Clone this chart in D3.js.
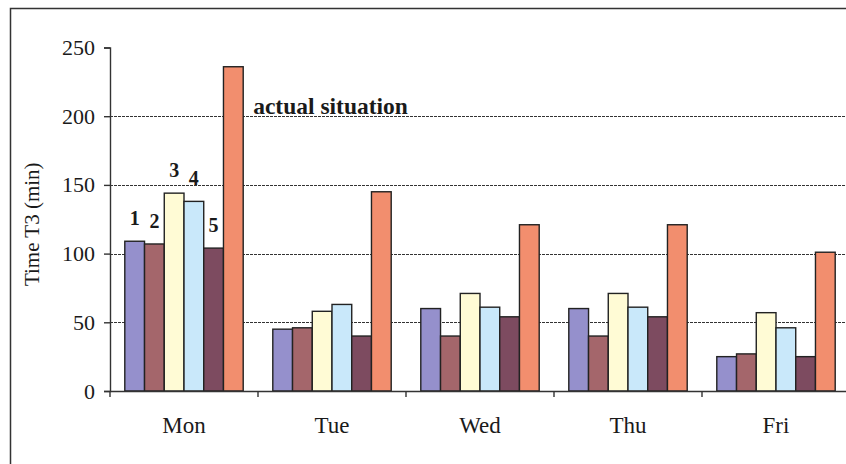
<!DOCTYPE html>
<html>
<head>
<meta charset="utf-8">
<script src="https://cdn.jsdelivr.net/npm/d3@7"></script>
<style>
  html, body { margin: 0; padding: 0; background: #fff; }
  svg { display: block; }
  svg text { font-family: "Liberation Serif", "DejaVu Serif", serif; fill: #1a1a1a; }
</style>
</head>
<body>
<svg id="chart" width="846" height="464"></svg>
<script>
// Weekday categories and six scenarios (1-5 plus the actual situation)
const days = ["Mon", "Tue", "Wed", "Thu", "Fri"];
const seriesNames = ["1", "2", "3", "4", "5", "actual situation"];
const s1 = [109, 45, 60, 60, 25];
const s2 = [107, 46, 40, 40, 27];
const s3 = [144, 58, 71, 71, 57];
const s4 = [138, 63, 61, 61, 46];
const s5 = [104, 40, 54, 54, 25];
const s6 = [236, 145, 121, 121, 101];
const yTicks = [0, 50, 100, 150, 200, 250];
const colors = ["#9590cc", "#a4666b", "#fffbd5", "#c9e8fa", "#7d4b60", "#f28e6e"];

const series = [s1, s2, s3, s4, s5, s6];
const serif = '"Liberation Serif", "DejaVu Serif", serif';

const svg = d3.select("#chart");
const plot = { left: 110, right: 850, top: 47.5, bottom: 391 };

// outer chart frame (right and bottom edges fall outside the canvas)
svg.append("rect")
  .attr("x", 10.5).attr("y", 8.5)
  .attr("width", 900).attr("height", 500)
  .attr("fill", "none").attr("stroke", "#333").attr("stroke-width", 1.5);

const x = d3.scaleBand().domain(days).range([plot.left, plot.right]).padding(0);
const xs = d3.scaleBand().domain(d3.range(series.length))
  .range([0, x.bandwidth()]).paddingInner(0).paddingOuter(0.75);
const y = d3.scaleLinear().domain([0, 250]).range([plot.bottom, plot.top]);

// dotted gridlines
svg.append("g").selectAll("line")
  .data(yTicks.filter(t => t > 0 && t < 250))
  .join("line")
  .attr("x1", plot.left).attr("x2", plot.right)
  .attr("y1", d => Math.round(y(d)) + 0.5).attr("y2", d => Math.round(y(d)) + 0.5)
  .attr("stroke", "#333").attr("stroke-width", 1)
  .attr("stroke-dasharray", "3,1");

// bars
const groups = svg.append("g").selectAll("g")
  .data(days)
  .join("g")
  .attr("transform", d => `translate(${x(d)},0)`);

groups.selectAll("rect")
  .data((d, i) => series.map((s, k) => ({ k, v: s[i] })))
  .join("rect")
  .attr("x", d => xs(d.k))
  .attr("width", xs.bandwidth())
  .attr("y", d => y(d.v))
  .attr("height", d => y(0) - y(d.v))
  .attr("fill", d => colors[d.k])
  .attr("stroke", "#222").attr("stroke-width", 1.4);

// y axis
const yAxis = svg.append("g")
  .attr("transform", `translate(${plot.left},0)`)
  .call(d3.axisLeft(y).tickValues(yTicks).tickSize(6).tickPadding(9));
yAxis.attr("font-family", null).attr("font-size", null);
yAxis.select(".domain").attr("stroke", "#333").attr("stroke-width", 1.4);
yAxis.selectAll(".tick line").attr("stroke", "#333").attr("stroke-width", 1.4);
yAxis.selectAll(".tick text")
  .style("font-family", serif).style("font-size", "22px").attr("fill", "#222");

// x axis: baseline, boundary ticks and centred day labels
const xAxis = svg.append("g")
  .attr("transform", `translate(0,${plot.bottom})`)
  .call(d3.axisBottom(x).tickSize(0).tickPadding(26));
xAxis.attr("font-family", null).attr("font-size", null);
xAxis.select(".domain").attr("stroke", "#333").attr("stroke-width", 1.4);
xAxis.selectAll(".tick text")
  .style("font-family", serif).style("font-size", "23px").attr("fill", "#222");
xAxis.selectAll("line.boundary")
  .data(days.map(d => x(d)).concat([plot.right]))
  .join("line")
  .attr("class", "boundary")
  .attr("x1", d => d).attr("x2", d => d)
  .attr("y1", 0).attr("y2", 6)
  .attr("stroke", "#333").attr("stroke-width", 1.4);

// y axis title
svg.append("text")
  .attr("transform", `translate(39,${(plot.top + plot.bottom) / 2 + 5}) rotate(-90)`)
  .attr("text-anchor", "middle")
  .style("font-family", serif).style("font-size", "21px")
  .text("Time T3 (min)");

// scenario numbers above Monday's bars
const mon = days[0];
svg.append("g").selectAll("text")
  .data(seriesNames.slice(0, 5))
  .join("text")
  .attr("x", (d, k) => x(mon) + xs(k) + xs.bandwidth() / 2)
  .attr("y", (d, k) => y(series[k][0]) - 16)
  .attr("text-anchor", "middle")
  .style("font-family", serif).style("font-weight", "bold").style("font-size", "20px")
  .text(d => d);

// label beside the tallest Monday bar
svg.append("text")
  .attr("x", x(mon) + xs(5) + xs.bandwidth() + 10)
  .attr("y", y(200) - 2)
  .style("font-family", serif).style("font-weight", "bold").style("font-size", "23.5px")
  .text(seriesNames[5]);
</script>
</body>
</html>
